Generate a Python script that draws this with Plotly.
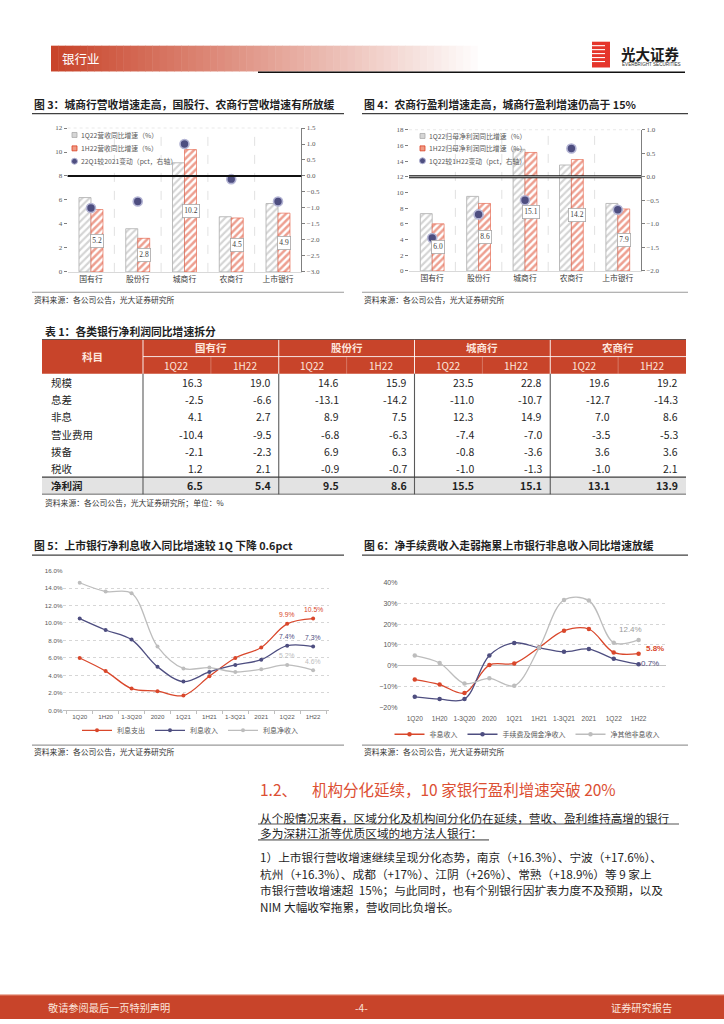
import plotly.graph_objects as go

W, H = 724, 1024
def px(x): return x / W
def py(y): return 1 - y / H

CJK = "Noto Sans CJK SC"
SERIF = "Liberation Serif"
RED = "#d9472b"
NAVY = "#4e4e80"
LGRAY = "#bdbdbd"
HDR = "#c8442a"
TXT = "#1f1f1f"

# ---------------- data ----------------
bank_types = ["国有行", "股份行", "城商行", "农商行", "上市银行"]
rev_1q22 = [6.2, 3.6, 9.1, 4.6, 5.7]
rev_1h22 = [5.2, 2.8, 10.2, 4.5, 4.9]
rev_chg = [-1.0, -0.8, 1.0, -0.1, -0.8]
rev_names = ["1Q22营收同比增速（%）", "1H22营收同比增速（%）", "22Q1较2021变动（pct，右轴）"]

np_1q22 = [7.3, 9.5, 15.5, 13.5, 8.6]
np_1h22 = [6.0, 8.6, 15.1, 14.2, 7.9]
np_chg = [-1.3, -0.8, -0.5, 0.6, -0.7]
np_names = ["1Q22归母净利润同比增速（%）", "1H22归母净利润同比增速（%）", "1Q22较1H22变动（pct，右轴）"]

table_groups = ["国有行", "股份行", "城商行", "农商行"]
table_periods = ["1Q22", "1H22"]
table_items = ["规模", "息差", "非息", "营业费用", "拨备", "税收", "净利润"]
row_scale = [16.3, 19.0, 14.6, 15.9, 23.5, 22.8, 19.6, 19.2]
row_nim = [-2.5, -6.6, -13.1, -14.2, -11.0, -10.7, -12.7, -14.3]
row_nonint = [4.1, 2.7, 8.9, 7.5, 12.3, 14.9, 7.0, 8.6]
row_opex = [-10.4, -9.5, -6.8, -6.3, -7.4, -7.0, -3.5, -5.3]
row_prov = [-2.1, -2.3, 6.9, 6.3, -0.8, -3.6, 3.6, 3.6]
row_tax = [1.2, 2.1, -0.9, -0.7, -1.0, -1.3, -1.0, 2.1]
row_np = [6.5, 5.4, 9.5, 8.6, 15.5, 15.1, 13.1, 13.9]
table_rows = [row_scale, row_nim, row_nonint, row_opex, row_prov, row_tax, row_np]

periods = ["1Q20", "1H20", "1-3Q20", "2020", "1Q21", "1H21", "1-3Q21", "2021", "1Q22", "1H22"]
int_exp = [6.0, 4.5, 2.5, 2.2, 1.7, 3.9, 6.0, 7.2, 9.9, 10.5]
int_inc = [10.5, 9.2, 8.1, 5.0, 3.3, 4.4, 5.2, 5.8, 7.4, 7.3]
net_int = [14.6, 13.6, 13.4, 7.3, 4.8, 4.9, 4.4, 4.7, 5.2, 4.6]
f5_names = ["利息支出", "利息收入", "利息净收入"]

nonint_inc = [-6.7, -9.1, -13.2, 0.3, 1.1, 8.8, 16.9, 17.7, 6.4, 5.8]
fee_inc = [-15.0, -16.1, -16.1, 4.9, 11.0, 8.6, 6.7, 8.0, 3.3, 0.7]
other_inc = [4.9, 1.3, -8.6, -6.1, -9.7, 8.6, 31.7, 31.4, 11.1, 12.4]
f6_names = ["非息收入", "手续费及佣金净收入", "净其他非息收入"]

fig = go.Figure()
shapes = []
ann = []

def text(x, y, s, size, color=TXT, anchor="left", family=CJK, yanchor="middle"):
    ann.append(dict(x=px(x), y=py(y), xref="paper", yref="paper", text=s, showarrow=False,
                    xanchor=anchor, yanchor=yanchor, font=dict(size=size, color=color, family=family)))

def pline(x0, y0, x1, y1, color, width):
    shapes.append(dict(type="line", xref="paper", yref="paper", x0=px(x0), x1=px(x1),
                       y0=py(y0), y1=py(y1), line=dict(color=color, width=width)))

def prect(x0, y0, x1, y1, fill, line_color=None, lw=0, kind="rect"):
    shapes.append(dict(type=kind, xref="paper", yref="paper", x0=px(x0), x1=px(x1),
                       y0=py(y1), y1=py(y0), fillcolor=fill,
                       line=dict(color=line_color or fill, width=lw)))

# ---------------- header ----------------
n_strip = 60
x_start, x_end = 51, 485
for i in range(n_strip):
    t = i / (n_strip - 1)
    r = int(201 + (255 - 201) * t)
    g = int(68 + (255 - 68) * t)
    b = int(42 + (255 - 42) * t)
    xa = x_start + (x_end - x_start) * i / n_strip
    xb = x_start + (x_end - x_start) * (i + 1) / n_strip + 0.5
    prect(xa, 42, xb, 68, f"rgb({r},{g},{b})")
text(60, 55, "银行业", 12.5, "#ffffff")
pline(258, 68.8, 685, 68.8, "#111111", 1.5)
prect(592, 38, 610, 64, "#e5352b")
for yy in [42, 46, 50, 54, 58]:
    pline(592, yy, 605, yy, "#ffffff", 1.1)
text(619, 49.5, "<b>光大证券</b>", 14.5, "#1a1a1a")
text(620, 61, "EVERBRIGHT SECURITIES", 4.6, "#333333", family="Liberation Sans")

# ---------------- figure titles ----------------
text(32, 101, "<b>图 3：城商行营收增速走高，国股行、农商行营收增速有所放缓</b>", 10.8)
pline(32, 110.5, 344, 110.5, "#404040", 1.3)
text(362, 101, "<b>图 4：农商行盈利增速走高，城商行盈利增速仍高于 15%</b>", 10.8)
pline(362, 110.5, 688, 110.5, "#404040", 1.3)
for x0, x1 in [(32, 344), (362, 688)]:
    pline(x0, 290.5, x1, 290.5, "#9a9a9a", 1.2)
    text(x0, 297.5, "资料来源：各公司公告，光大证券研究所", 7.8, "#333333")

# ---------------- fig 3 / fig 4 ----------------
def bar_pair(xs, a, b, names, xa, ya):
    fig.add_trace(go.Bar(x=xs, y=a, name=names[0], xaxis=xa, yaxis=ya, showlegend=False,
                         marker=dict(color="white", line=dict(color="#b4b4b4", width=0.9),
                                     pattern=dict(shape="/", fgcolor="#a9a9a9", bgcolor="white",
                                                  size=5, solidity=0.42))))
    fig.add_trace(go.Bar(x=xs, y=b, name=names[1], xaxis=xa, yaxis=ya, showlegend=False,
                         marker=dict(color="white", line=dict(color="#e2583d", width=0.6),
                                     pattern=dict(shape="/", fgcolor="#dc3f22", bgcolor="white",
                                                  size=5, solidity=0.5))))

bar_pair(bank_types, rev_1q22, rev_1h22, rev_names, "x", "y")
fig.add_trace(go.Scatter(x=bank_types, y=rev_chg, mode="markers", name=rev_names[2],
                         xaxis="x", yaxis="y2", showlegend=False,
                         marker=dict(size=9, color=NAVY, line=dict(color="#b3b4d4", width=1.6))))
bar_pair(bank_types, np_1q22, np_1h22, np_names, "x2", "y3")
fig.add_trace(go.Scatter(x=bank_types, y=np_chg, mode="markers", name=np_names[2],
                         xaxis="x2", yaxis="y4", showlegend=False,
                         marker=dict(size=9, color=NAVY, line=dict(color="#b3b4d4", width=1.6))))

for vals, xa, ya in [(rev_1h22, "x", "y"), (np_1h22, "x2", "y3")]:
    for c, v in zip(bank_types, vals):
        ann.append(dict(x=c, y=v / 2, xref=xa, yref=ya, text=f"{v:.1f}", showarrow=False,
                        xshift=6, bgcolor="white", bordercolor="#a8a8a8", borderwidth=0.8,
                        borderpad=1.5, font=dict(size=7.5, family=SERIF, color="#404040")))

for xa, ya in [("x", "y"), ("x2", "y3")]:
    for i in range(len(bank_types) - 1):
        shapes.append(dict(type="line", xref=xa, yref=ya + " domain", x0=i + 0.5, x1=i + 0.5,
                           y0=0, y1=1, layer="below", line=dict(color="#d9d9d9", width=0.8, dash="dash")))
    shapes.append(dict(type="line", xref=xa + " domain", yref=ya + " domain", x0=0, x1=1,
                       y0=1, y1=1, layer="below", line=dict(color="#e3e3e3", width=0.8, dash="dot")))
shapes.append(dict(type="line", xref="x domain", yref="y2", x0=0, x1=1, y0=0, y1=0,
                   line=dict(color="#111111", width=2)))
shapes.append(dict(type="line", xref="x2 domain", yref="y4", x0=0, x1=1, y0=0, y1=0,
                   line=dict(color="#111111", width=3.2)))
shapes.append(dict(type="line", xref="x2 domain", yref="y4", x0=0, x1=1, y0=0, y1=0,
                   line=dict(color="#ffffff", width=0.8)))

def manual_legend(x, ys, names):
    fills = [("#d6d6d6", "#a9a9a9"), ("#ef9a84", "#dc3f22")]
    for k in range(2):
        prect(x - 2.5, ys[k] - 2.5, x + 2.5, ys[k] + 2.5, fills[k][0], fills[k][1], 0.8)
    prect(x - 3, ys[2] - 3, x + 3, ys[2] + 3, NAVY, "#b3b4d4", 1, kind="circle")
    for k in range(3):
        text(x + 4, ys[k], names[k], 6.8, "#595959")

manual_legend(74.5, [132, 145.5, 158.5], rev_names)
manual_legend(422.5, [133, 145.5, 158], np_names)

# ---------------- table ----------------
text(43, 330, "<b>表 1：各类银行净利润同比增速拆分</b>", 10.8)
label_w, val_w = 101, 67.875
n_val = len(table_groups) * len(table_periods)
tot_w = label_w + n_val * val_w
n_rows = 2 + len(table_items)

def tshape(kind, x0, x1, y0, y1, **kw):
    d = dict(type=kind, xref="x5", yref="y7", x0=x0, x1=x1, y0=y0, y1=y1)
    d.update(kw)
    shapes.append(d)

tshape("rect", 0, tot_w, 0, 2, fillcolor=HDR, line=dict(width=0), layer="below")
tshape("rect", 0, tot_w, n_rows - 1, n_rows, fillcolor="#e3e3e3", line=dict(width=0), layer="below")
tshape("line", label_w, tot_w, 1, 1, line=dict(color="rgba(255,255,255,0.85)", width=1))
for k in range(len(table_groups)):
    xg = label_w + k * len(table_periods) * val_w
    tshape("line", xg, xg, 0, 2, line=dict(color="rgba(255,255,255,0.9)", width=1))
    tshape("line", xg, xg, 2, n_rows, line=dict(color="#5a5a5a", width=1.1))
    xs = xg + val_w
    tshape("line", xs, xs, 1, 2, line=dict(color="rgba(255,255,255,0.35)", width=0.8))
for yy, w in [(0, 1.4), (n_rows - 1, 1.2), (n_rows, 1.4)]:
    tshape("line", 0, tot_w, yy, yy, line=dict(color="#3c3c3c", width=w))

HTXT = "#fde6dd"
ann.append(dict(x=label_w / 2, y=1, xref="x5", yref="y7", text="<b>科目</b>", showarrow=False,
                font=dict(size=10.5, family=CJK, color=HTXT)))
for k, gname in enumerate(table_groups):
    ann.append(dict(x=label_w + (k + 0.5) * len(table_periods) * val_w, y=0.5, xref="x5", yref="y7",
                    text=f"<b>{gname}</b>", showarrow=False, font=dict(size=10.5, family=CJK, color=HTXT)))
    for j, pname in enumerate(table_periods):
        col = k * len(table_periods) + j
        ann.append(dict(x=label_w + (col + 0.5) * val_w, y=1.5, xref="x5", yref="y7", text=pname,
                        showarrow=False, font=dict(size=10, family=CJK, color=HTXT)))
for i, (item, vals) in enumerate(zip(table_items, table_rows)):
    last = i == len(table_items) - 1
    lab = f"<b>{item}</b>" if last else item
    ann.append(dict(x=7, y=2 + i + 0.5, xref="x5", yref="y7", text=lab, showarrow=False,
                    xanchor="left", font=dict(size=10.5, family=CJK, color=TXT)))
    for col, v in enumerate(vals):
        s = f"{v:.1f}"
        ann.append(dict(x=label_w + (col + 1) * val_w - 6, y=2 + i + 0.5, xref="x5", yref="y7",
                        text=f"<b>{s}</b>" if last else s, showarrow=False, xanchor="right",
                        font=dict(size=10.5, family=CJK, color=TXT)))
text(43, 502, "资料来源：各公司公告，光大证券研究所；单位：%", 7.8, "#333333")

# ---------------- fig 5 / fig 6 ----------------
text(32, 545, "<b>图 5：上市银行净利息收入同比增速较 1Q 下降 0.6pct</b>", 10.8)
pline(32, 555.5, 344, 555.5, "#404040", 1.3)
text(362, 545, "<b>图 6：净手续费收入走弱拖累上市银行非息收入同比增速放缓</b>", 10.8)
pline(362, 555.5, 688, 555.5, "#404040", 1.3)
for x0, x1 in [(32, 344), (362, 688)]:
    pline(x0, 747, x1, 747, "#9a9a9a", 1.2)
    text(x0, 753.5, "资料来源：各公司公告，光大证券研究所", 7.8, "#333333")

colors3 = [RED, NAVY, LGRAY]
for ys, nm, c in zip([int_exp, int_inc, net_int], f5_names, colors3):
    fig.add_trace(go.Scatter(x=periods, y=ys, name=nm, mode="lines+markers", xaxis="x3", yaxis="y5",
                             legend="legend",
                             line=dict(color=c, width=1.3, shape="spline", smoothing=1.0),
                             marker=dict(size=4, color=c)))
    for p in [-2, -1]:
        ann.append(dict(x=periods[p], y=ys[p], xref="x3", yref="y5", text=f"{ys[p]:.1f}%",
                        showarrow=False, yshift=9,
                        font=dict(size=6.8, family="Liberation Sans", color=c)))

for ys, nm, c in zip([nonint_inc, fee_inc, other_inc], f6_names, colors3):
    fig.add_trace(go.Scatter(x=periods, y=ys, name=nm, mode="lines+markers", xaxis="x4", yaxis="y6",
                             legend="legend2",
                             line=dict(color=c, width=1.3, shape="spline", smoothing=1.0),
                             marker=dict(size=4.5, color=c)))
f6_lab = [(nonint_inc, RED, 5, 5, "left", True), (fee_inc, NAVY, 0, 1, "left", False),
          (other_inc, "#9a9a9a", -8, 10, "center", False)]
for ys, c, xs, ysh, xa_, bold in f6_lab:
    s = f"{ys[-1]:.1f}%"
    ann.append(dict(x=periods[-1], y=ys[-1], xref="x4", yref="y6", text=f"<b>{s}</b>" if bold else s,
                    showarrow=False, xshift=xs, yshift=ysh, xanchor=xa_,
                    font=dict(size=8, family="Liberation Sans", color=c)))

# ---------------- text section ----------------
text(258, 791, "1.2、", 15.5, "#dc4f33")
text(310, 791, "机构分化延续，10 家银行盈利增速突破 20%", 15.5, "#dc4f33")
para = [
    (819.5, "从个股情况来看，区域分化及机构间分化仍在延续，营收、盈利维持高增的银行"),
    (835.5, "多为深耕江浙等优质区域的地方法人银行："),
    (859.5, "1）上市银行营收增速继续呈现分化态势，南京（+16.3%）、宁波（+17.6%）、"),
    (876.2, "杭州（+16.3%）、成都（+17%）、江阴（+26%）、常熟（+18.9%）等 9 家上"),
    (892.9, "市银行营收增速超  15%；与此同时，也有个别银行因扩表力度不及预期，以及"),
    (909.6, "NIM 大幅收窄拖累，营收同比负增长。"),
]
for yy, s in para:
    text(258, yy, s, 11.7, TXT)
pline(258, 826.5, 679, 826.5, "#8c8c8c", 1.6)
pline(258, 842.5, 489, 842.5, "#8c8c8c", 1.6)

# ---------------- footer ----------------
prect(0, 998.5, W, 1023, HDR)
pline(0, 999, W, 999, "#e07a62", 1)
text(46, 1011, "敬请参阅最后一页特别声明", 10.2, "#fbe4dc")
text(361, 1011, "-4-", 10.2, "#fbe4dc", anchor="center")
text(674, 1011, "证券研究报告", 10.2, "#fbe4dc", anchor="right")

# ---------------- layout ----------------
tickf_s = dict(size=7, family=SERIF, color="#595959")
tickf_5 = dict(size=6.2, family="Liberation Sans", color="#595959")
fig.update_layout(
    width=W, height=H, margin=dict(l=0, r=0, t=0, b=0),
    paper_bgcolor="white", plot_bgcolor="rgba(0,0,0,0)",
    barmode="group", bargap=0.487, bargroupgap=0,
    shapes=shapes, annotations=ann,
    font=dict(family=CJK),
    xaxis=dict(domain=[px(67.6), px(301.4)], anchor="y", range=[-0.5, 4.5], showline=True,
               linecolor="#d9d9d9", ticks="", tickfont=dict(size=7.8, family=CJK, color="#404040")),
    yaxis=dict(domain=[py(270), py(125)], anchor="x", range=[0, 12], dtick=2, ticks="outside",
               ticklen=3, tickcolor="#7f7f7f", showgrid=False, zeroline=False, tickfont=tickf_s),
    yaxis2=dict(overlaying="y", side="right", anchor="x", range=[-3, 1.5], dtick=0.5,
                tickformat=".1f", ticks="outside", ticklen=3, tickcolor="#7f7f7f", showline=True,
                linecolor="#7f7f7f", showgrid=False, zeroline=False, tickfont=tickf_s),
    xaxis2=dict(domain=[px(409), px(641)], anchor="y3", range=[-0.5, 4.5], showline=True,
                linecolor="#d9d9d9", ticks="", tickfont=dict(size=7.8, family=CJK, color="#404040")),
    yaxis3=dict(domain=[py(269), py(126.7)], anchor="x2", range=[0, 18], dtick=2, ticks="outside",
                ticklen=3, tickcolor="#7f7f7f", showgrid=False, zeroline=False, tickfont=tickf_s),
    yaxis4=dict(overlaying="y3", side="right", anchor="x2", range=[-2, 1], dtick=0.5,
                tickformat=".1f", ticks="outside", ticklen=3, tickcolor="#7f7f7f", showline=True,
                linecolor="#7f7f7f", showgrid=False, zeroline=False, tickfont=tickf_s),
    xaxis3=dict(domain=[px(63.4), px(329.4)], anchor="y5", showline=True, linecolor="#bfbfbf",
                ticks="outside", tickson="boundaries", ticklen=3, tickcolor="#bfbfbf",
                tickangle=0, tickfont=tickf_5, showgrid=False),
    yaxis5=dict(domain=[py(712), py(570.1)], anchor="x3", range=[0, 16.1], dtick=2, tickformat=".1f",
                ticksuffix="%", showgrid=True, gridcolor="#d6d6d6", griddash="dot", zeroline=False,
                tickfont=tickf_5),
    xaxis4=dict(domain=[px(398.4), px(665.6)], anchor="y6", showline=False, ticks="outside",
                ticklen=4, tickcolor="rgba(0,0,0,0)", tickangle=0,
                tickfont=dict(size=6.6, family="Liberation Sans", color="#595959"), showgrid=False),
    yaxis6=dict(domain=[py(709.3), py(582.7)], anchor="x4", range=[-20.3, 40.3], dtick=10,
                ticksuffix="%", showgrid=True, gridcolor="#d6d6d6", griddash="dot", zeroline=True,
                zerolinecolor="#bfbfbf", zerolinewidth=1,
                tickfont=dict(size=7, family="Liberation Sans", color="#595959")),
    xaxis5=dict(domain=[px(42), px(686)], anchor="y7", range=[0, tot_w], visible=False),
    yaxis7=dict(domain=[py(494.3), py(338)], anchor="x5", range=[n_rows, 0], visible=False),
    legend=dict(orientation="h", x=px(190), xanchor="center", y=py(732), yanchor="middle",
                font=dict(size=7, family=CJK, color="#595959"), bgcolor="rgba(0,0,0,0)"),
    legend2=dict(orientation="h", x=px(527), xanchor="center", y=py(736), yanchor="middle",
                 font=dict(size=7, family=CJK, color="#595959"), bgcolor="rgba(0,0,0,0)"),
)

fig.write_html("out.html", config={"displayModeBar": False},
               post_script="document.body.style.margin='0';document.body.style.overflow='hidden';")
